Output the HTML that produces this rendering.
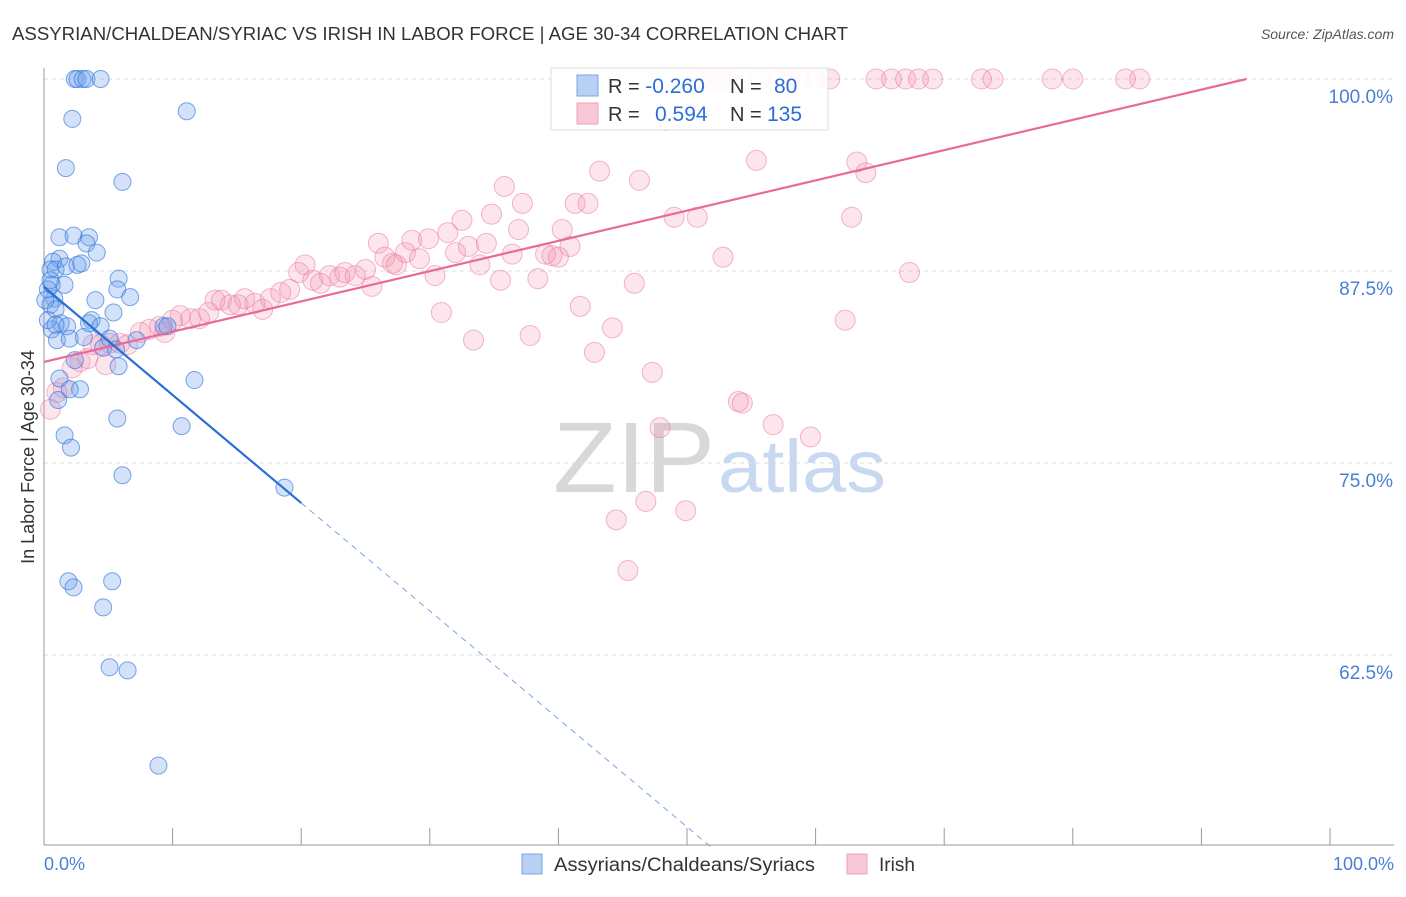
<!DOCTYPE html>
<html><head><meta charset="utf-8"><style>
body{margin:0;background:#fff;font-family:"Liberation Sans",sans-serif}
svg text{font-family:"Liberation Sans",sans-serif}
</style></head><body>
<svg id="chart" width="1406" height="892" xmlns="http://www.w3.org/2000/svg">
<text x="12" y="40" font-size="18" fill="#333" textLength="836" lengthAdjust="spacingAndGlyphs">ASSYRIAN/CHALDEAN/SYRIAC VS IRISH IN LABOR FORCE | AGE 30-34 CORRELATION CHART</text>
<text x="1394" y="39" font-size="14" fill="#555" text-anchor="end" font-style="italic">Source: ZipAtlas.com</text>
<g>
<text x="553" y="492" font-size="100" fill="#d8d8d8" font-family="Liberation Serif,serif" textLength="162" lengthAdjust="spacingAndGlyphs">ZIP</text>
<text x="718" y="492" font-size="74" fill="#c8d8f0" textLength="168" lengthAdjust="spacingAndGlyphs">atlas</text>
</g>
<g id="grid"></g>
<g id="axes"></g>
<g id="pts"></g>
<g id="lines"></g>
<text transform="translate(34,457) rotate(-90)" font-size="18" fill="#333" text-anchor="middle">In Labor Force | Age 30-34</text>
<text x="44" y="870" font-size="18" fill="#4a7fd4">0.0%</text>
<text x="1394" y="870" font-size="18" fill="#4a7fd4" text-anchor="end">100.0%</text>
<g>
<rect x="551" y="68" width="277" height="62" fill="#fff" fill-opacity="0.9" stroke="#ddd"/>
<rect x="577" y="75" width="21" height="21" fill="#b8d0f4" stroke="#7aa4e4"/>
<rect x="577" y="103" width="21" height="21" fill="#f9c8d6" stroke="#f0a0b8"/>
<text x="608" y="93" font-size="20" fill="#333">R = <tspan fill="#2b6fd6" font-size="21">-0.260</tspan></text>
<text x="730" y="93" font-size="20" fill="#333">N = <tspan fill="#2b6fd6" font-size="21" x="774">80</tspan></text>
<text x="608" y="121" font-size="20" fill="#333">R = <tspan fill="#2b6fd6" font-size="21" x="655">0.594</tspan></text>
<text x="730" y="121" font-size="20" fill="#333">N = <tspan fill="#2b6fd6" font-size="21" x="767">135</tspan></text>
</g>
<g>
<rect x="522" y="854" width="20" height="20" fill="#b8d0f4" stroke="#7aa4e4"/>
<text x="554" y="871" font-size="19" fill="#333" textLength="261" lengthAdjust="spacingAndGlyphs">Assyrians/Chaldeans/Syriacs</text>
<rect x="847" y="854" width="20" height="20" fill="#f9c8d6" stroke="#f0a0b8"/>
<text x="879" y="871" font-size="19" fill="#333">Irish</text>
</g>
</svg>
<script>
const yTicks=[100,87.5,75,62.5];
const yTickLabels=["100.0%","87.5%","75.0%","62.5%"];
const xTicks=[0,10,20,30,40,50,60,70,80,90,100];
const blueX=[2.4,2.6,3.0,3.3,4.4,11.1,2.2,1.7,6.1,1.2,2.3,3.5,3.3,4.1,1.2,0.7,0.5,0.9,1.7,2.6,2.9,1.6,0.6,5.8,5.7,6.7,4.0,0.8,0.5,0.9,5.4,3.7,1.3,1.8,3.5,4.4,0.6,1.0,2.0,3.1,5.1,7.2,4.6,5.6,9.3,9.6,2.4,5.8,1.2,2.8,2.0,1.1,11.7,5.7,10.7,1.6,2.1,6.1,18.7,1.9,5.3,2.3,4.6,5.1,6.5,8.9,0.3,0.5,0.1,0.3,0.9];
const blueY=[100,100,100,100,100,97.9,97.4,94.2,93.3,89.7,89.8,89.7,89.3,88.7,88.3,88.1,87.6,87.6,87.8,87.9,88.0,86.6,86.6,87.0,86.3,85.8,85.6,85.7,85.3,85.0,84.8,84.3,84.1,83.9,84.1,83.9,83.7,83.0,83.1,83.2,83.1,83.0,82.5,82.4,83.9,83.9,81.7,81.3,80.5,79.8,79.8,79.1,80.4,77.9,77.4,76.8,76.0,74.2,73.4,67.3,67.3,66.9,65.6,61.7,61.5,55.3,86.3,86.9,85.6,84.3,84.0];
const pinkX=[0.5,1.0,1.5,2.2,2.8,3.4,4.8,3.8,4.4,5.1,5.9,6.5,7.5,8.2,9.0,9.4,10.0,10.6,11.4,12.1,12.8,13.3,13.8,14.5,15.1,15.6,16.4,17.0,17.6,18.4,19.1,19.8,20.3,20.9,21.5,22.2,23.0,23.4,24.2,25.0,25.5,26.0,26.5,27.1,27.4,28.1,28.6,29.2,29.9,30.4,30.9,31.4,32.0,32.5,33.0,33.4,33.9,34.4,34.8,35.5,35.8,36.4,36.9,37.2,37.8,38.4,39.0,39.5,40.0,40.3,40.9,41.3,41.7,42.3,42.8,43.2,44.2,44.5,45.4,45.9,46.3,46.8,47.3,47.9,48.4,49.0,49.9,50.8,51.0,51.8,52.6,52.8,53.3,54.0,54.3,55.4,55.7,56.7,57.2,58.0,58.8,59.6,60.0,61.1,62.3,62.8,63.2,63.9,64.7,65.9,67.0,67.3,68.0,69.1,72.9,73.8,78.4,80.0,84.1,85.2];
const pinkY=[78.5,79.6,79.9,81.2,81.6,81.8,81.4,82.7,82.7,82.8,82.8,82.7,83.5,83.7,83.9,83.5,84.3,84.6,84.4,84.4,84.8,85.6,85.6,85.3,85.3,85.7,85.4,85.0,85.7,86.1,86.3,87.4,87.9,86.9,86.7,87.2,87.1,87.4,87.2,87.6,86.5,89.3,88.4,88.0,87.9,88.7,89.5,88.3,89.6,87.2,84.8,90.0,88.7,90.8,89.1,83.0,87.9,89.3,91.2,86.9,93.0,88.6,90.2,91.9,83.3,87.0,88.6,88.5,88.4,90.2,89.1,91.9,85.2,91.9,82.2,94.0,83.8,71.3,68.0,86.7,93.4,72.5,80.9,77.3,97.3,91.0,71.9,91.0,100,100,100,88.4,100,79.0,78.9,94.7,100,77.5,100,100,100,76.7,100,100,84.3,91.0,94.6,93.9,100,100,100,87.4,100,100,100,100,100,100,100,100];
const blueTrend=[86.46,-0.703];
const pinkTrend=[81.58,0.197];
const NS="http://www.w3.org/2000/svg";
const X=v=>44+v*12.86, Y=v=>79+(100-v)*15.36;
function mk(t,a,p){const e=document.createElementNS(NS,t);for(const k in a)e.setAttribute(k,a[k]);document.getElementById(p).appendChild(e);return e;}
yTicks.forEach((t,i)=>{
 const l=mk('line',{x1:44,x2:1394,y1:Y(t),y2:Y(t),stroke:'#ddd','stroke-dasharray':'4,4'},'grid');
 
 
 const tx=mk('text',{x:1393,y:Y(t)+24,'font-size':19,fill:'#4a7fd4','text-anchor':'end'},'grid');tx.textContent=yTickLabels[i];
 
 
});
const ax=mk('line',{x1:44,x2:44,y1:68,y2:845,stroke:'#999'},'axes');


const bx=mk('line',{x1:44,x2:1394,y1:845,y2:845,stroke:'#999'},'axes');


xTicks.forEach(t=>{const l=mk('line',{x1:X(t),x2:X(t),y1:828,y2:845,stroke:'#999'},'axes');
 
 });
pinkX.forEach((v,i)=>{const c=mk('circle',{cx:X(v),cy:Y(pinkY[i]),r:10,fill:'rgba(242,140,170,0.22)',stroke:'rgba(235,120,160,0.55)','stroke-width':1},'pts');
 
 });
blueX.forEach((v,i)=>{const c=mk('circle',{cx:X(v),cy:Y(blueY[i]),r:8.5,fill:'rgba(110,160,235,0.3)',stroke:'rgba(50,120,220,0.65)','stroke-width':1},'pts');
 
 });
const bf=x=>blueTrend[0]+blueTrend[1]*x, pf=x=>pinkTrend[0]+pinkTrend[1]*x;
const xEnd=(100-pinkTrend[0])/pinkTrend[1];
const pl=mk('line',{x1:X(0),y1:Y(pf(0)),x2:X(xEnd),y2:Y(100),stroke:'#e8699a','stroke-width':2.2},'lines');


const bl=mk('line',{x1:X(0),y1:Y(bf(0)),x2:X(20),y2:Y(bf(20)),stroke:'#2b6fd6','stroke-width':2.2},'lines');


const xb=(50-blueTrend[0])/blueTrend[1];
const bd=mk('line',{x1:X(20),y1:Y(bf(20)),x2:X(xb),y2:Y(50),stroke:'#7aa4e4','stroke-width':1,'stroke-dasharray':'6,5'},'lines');


</script>
</body></html>
